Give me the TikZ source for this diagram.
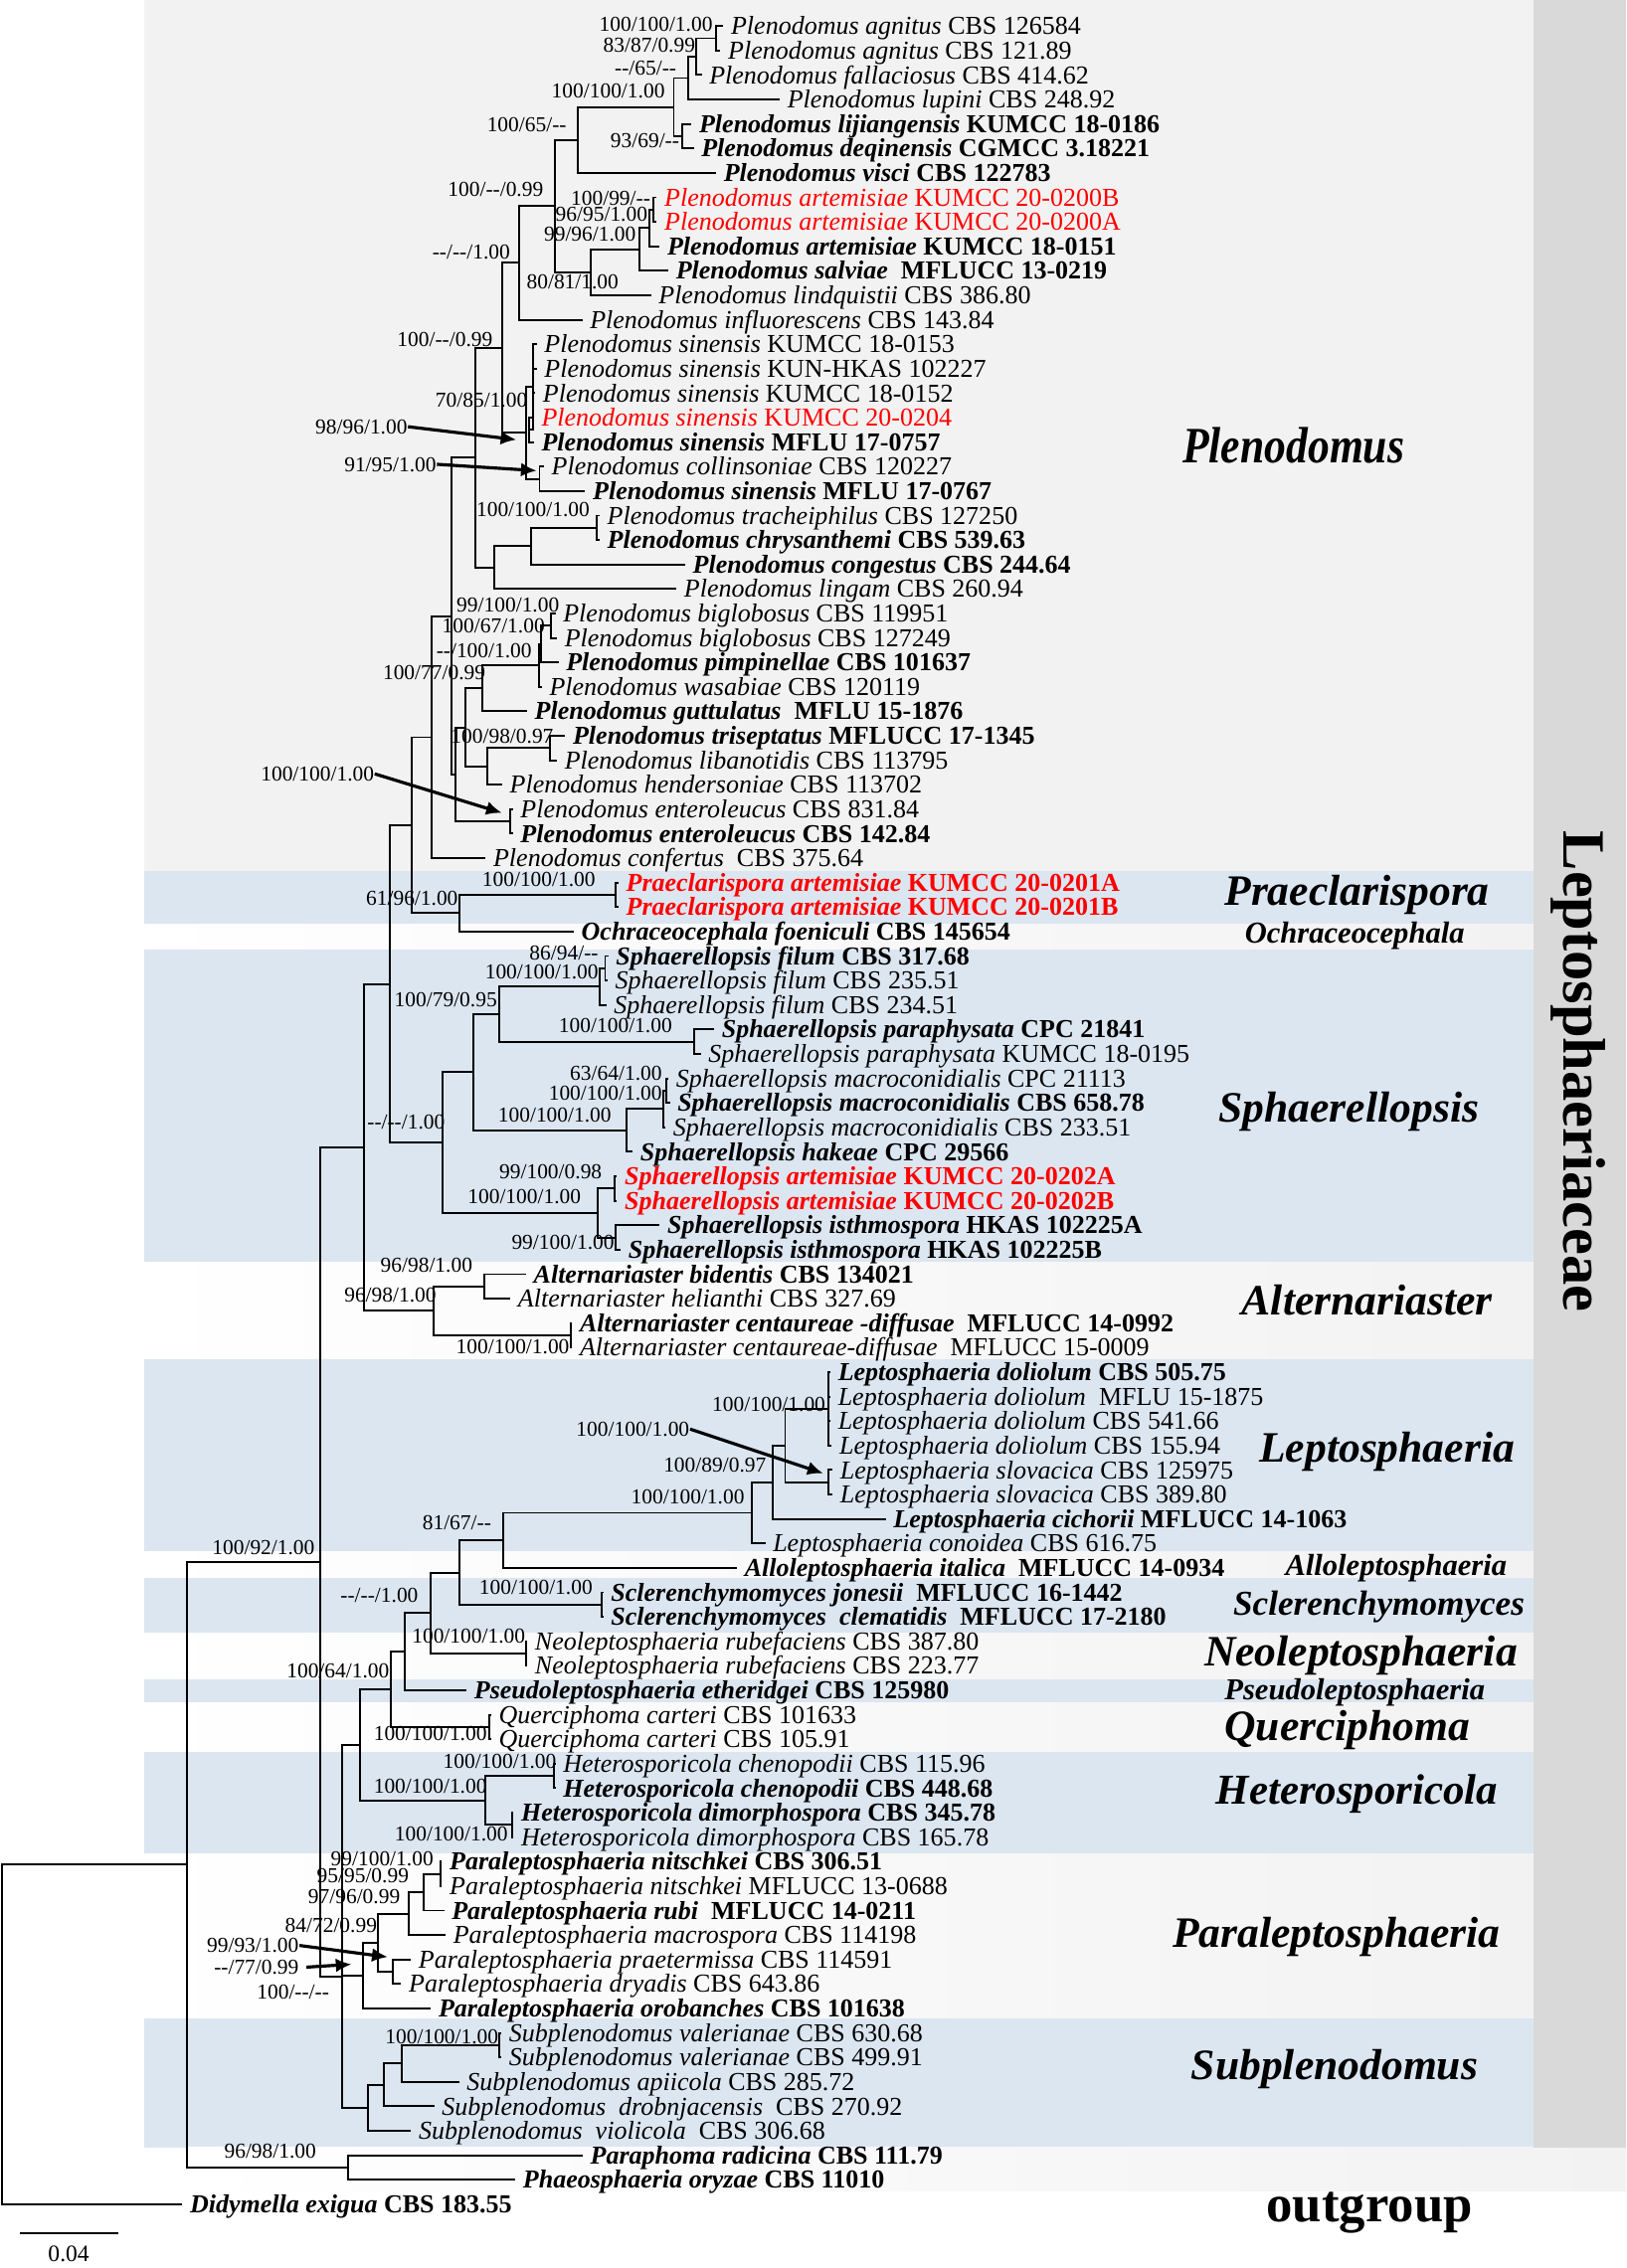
\documentclass[tikz,border=0pt]{standalone}
\usepackage{fontspec}
\setmainfont{Liberation Serif}
\usepackage{graphicx}
\usetikzlibrary{arrows.meta}

\definecolor{bandgray}{HTML}{F2F2F2}
\definecolor{bandblue}{HTML}{DCE6F1}
\definecolor{bargray}{HTML}{D9D9D9}
\definecolor{newred}{HTML}{FF0000}

% row -> y
\newcommand{\ry}[1]{1.08+16.92*(#1)}
\newcommand{\leaf}[4]{\node[#1] (t#2) at (#3,{\ry{#2}}) {#4};}
\newcommand{\band}[3]{\shade[left color=white, right color=bandgray] (#1,#2) rectangle (1060,#3);}
\newcommand{\nodat}{-{}-}

\tikzset{
  branch/.style={line width=0.55pt},
  pointer/.style={line width=0.9pt, -{Latex[length=4.5pt, width=4pt]}},
  leaf/.style={anchor=west, inner xsep=2pt, inner ysep=0pt, text height=6pt, text depth=1.1pt,
    font=\fontsize{7.4}{8}\selectfont},
  leafb/.style={leaf, font=\fontsize{7.4}{8}\selectfont\bfseries},
  leafr/.style={leaf, text=newred},
  leafrb/.style={leafb, text=newred},
  bs/.style={anchor=east, inner sep=0pt, text height=4.9pt, text depth=0.9pt,
    font=\fontsize{6.1}{7}\selectfont},
  genus/.style={anchor=base west, inner sep=0pt, font=\fontsize{12.4}{14}\selectfont\bfseries\itshape},
  genussm/.style={genus, font=\fontsize{8.7}{10}\selectfont\bfseries\itshape}
}

\begin{document}
\begin{tikzpicture}[x=0.14546mm, y=-0.14546mm]
  \useasboundingbox (0,0) rectangle (1124,1568);

  % Background bands
  \fill[bandgray] (100,0) rectangle (1060,602);
  \fill[bandblue] (100,602) rectangle (1060,639);
  \band{100}{639}{656.5}
  \fill[bandblue] (100,656.5) rectangle (1060,872.5);
  \band{100}{872.5}{939.5}
  \fill[bandblue] (100,939.5) rectangle (1060,1073);
  \band{100}{1073}{1091}
  \fill[bandblue] (100,1091) rectangle (1060,1129);
  \band{100}{1129}{1161}
  \fill[bandblue] (100,1161) rectangle (1060,1177);
  \band{100}{1177}{1211}
  \fill[bandblue] (100,1211) rectangle (1060,1282);
  \band{100}{1282}{1395.5}
  \fill[bandblue] (100,1395.5) rectangle (1060,1484.5);
  \shade[left color=white, right color=bandgray] (129,1484.5) rectangle (1124,1514.7);
  \fill[bargray] (1060,0) rectangle (1124,1484.5);

  % Tips
  \leaf{leaf}{1}{500}{\textit{Plenodomus agnitus} CBS 126584}
  \leaf{leaf}{2}{498}{\textit{Plenodomus agnitus} CBS 121.89}
  \leaf{leaf}{3}{485}{\textit{Plenodomus fallaciosus} CBS 414.62}
  \leaf{leaf}{4}{539}{\textit{Plenodomus lupini} CBS 248.92}
  \leaf{leafb}{5}{478}{\textit{Plenodomus lijiangensis} KUMCC 18-0186}
  \leaf{leafb}{6}{479.5}{\textit{Plenodomus deqinensis} CGMCC 3.18221}
  \leaf{leafb}{7}{495}{\textit{Plenodomus visci} CBS 122783}
  \leaf{leafr}{8}{454}{\textit{Plenodomus artemisiae} KUMCC 20-0200B}
  \leaf{leafr}{9}{454}{\textit{Plenodomus artemisiae} KUMCC 20-0200A}
  \leaf{leafb}{10}{456}{\textit{Plenodomus artemisiae} KUMCC 18-0151}
  \leaf{leafb}{11}{462}{\textit{Plenodomus salviae}\ \ MFLUCC 13-0219}
  \leaf{leaf}{12}{450}{\textit{Plenodomus lindquistii} CBS 386.80}
  \leaf{leaf}{13}{402.5}{\textit{Plenodomus influorescens} CBS 143.84}
  \leaf{leaf}{14}{371}{\textit{Plenodomus sinensis} KUMCC 18-0153}
  \leaf{leaf}{15}{371}{\textit{Plenodomus sinensis} KUN-HKAS 102227}
  \leaf{leaf}{16}{370}{\textit{Plenodomus sinensis} KUMCC 18-0152}
  \leaf{leafr}{17}{369}{\textit{Plenodomus sinensis} KUMCC 20-0204}
  \leaf{leafb}{18}{369}{\textit{Plenodomus sinensis} MFLU 17-0757}
  \leaf{leaf}{19}{376}{\textit{Plenodomus collinsoniae} CBS 120227}
  \leaf{leafb}{20}{404.5}{\textit{Plenodomus sinensis} MFLU 17-0767}
  \leaf{leaf}{21}{414.5}{\textit{Plenodomus tracheiphilus} CBS 127250}
  \leaf{leafb}{22}{414.5}{\textit{Plenodomus chrysanthemi} CBS 539.63}
  \leaf{leafb}{23}{473.6}{\textit{Plenodomus congestus} CBS 244.64}
  \leaf{leaf}{24}{467.6}{\textit{Plenodomus lingam} CBS 260.94}
  \leaf{leaf}{25}{384}{\textit{Plenodomus biglobosus} CBS 119951}
  \leaf{leaf}{26}{385}{\textit{Plenodomus biglobosus} CBS 127249}
  \leaf{leafb}{27}{386}{\textit{Plenodomus pimpinellae} CBS 101637}
  \leaf{leaf}{28}{374.5}{\textit{Plenodomus wasabiae} CBS 120119}
  \leaf{leafb}{29}{364.3}{\textit{Plenodomus guttulatus}\ \ MFLU 15-1876}
  \leaf{leafb}{30}{390.7}{\textit{Plenodomus triseptatus} MFLUCC 17-1345}
  \leaf{leaf}{31}{385}{\textit{Plenodomus libanotidis} CBS 113795}
  \leaf{leaf}{32}{347.1}{\textit{Plenodomus hendersoniae} CBS 113702}
  \leaf{leaf}{33}{354.5}{\textit{Plenodomus enteroleucus} CBS 831.84}
  \leaf{leafb}{34}{354.5}{\textit{Plenodomus enteroleucus} CBS 142.84}
  \leaf{leaf}{35}{335.7}{\textit{Plenodomus confertus}\ \ CBS 375.64}
  \leaf{leafrb}{36}{427.5}{\textit{Praeclarispora artemisiae} KUMCC 20-0201A}
  \leaf{leafrb}{37}{427.5}{\textit{Praeclarispora artemisiae} KUMCC 20-0201B}
  \leaf{leafb}{38}{396.6}{\textit{Ochraceocephala foeniculi} CBS 145654}
  \leaf{leafb}{39}{420.5}{\textit{Sphaerellopsis filum} CBS 317.68}
  \leaf{leaf}{40}{420}{\textit{Sphaerellopsis filum} CBS 235.51}
  \leaf{leaf}{41}{419}{\textit{Sphaerellopsis filum} CBS 234.51}
  \leaf{leafb}{42}{493.6}{\textit{Sphaerellopsis paraphysata} CPC 21841}
  \leaf{leaf}{43}{484.4}{\textit{Sphaerellopsis paraphysata} KUMCC 18-0195}
  \leaf{leaf}{44}{462}{\textit{Sphaerellopsis macroconidialis} CPC 21113}
  \leaf{leafb}{45}{463}{\textit{Sphaerellopsis macroconidialis} CBS 658.78}
  \leaf{leaf}{46}{460}{\textit{Sphaerellopsis macroconidialis} CBS 233.51}
  \leaf{leafb}{47}{437.3}{\textit{Sphaerellopsis hakeae} CPC 29566}
  \leaf{leafrb}{48}{426.5}{\textit{Sphaerellopsis artemisiae} KUMCC 20-0202A}
  \leaf{leafrb}{49}{426.5}{\textit{Sphaerellopsis artemisiae} KUMCC 20-0202B}
  \leaf{leafb}{50}{456}{\textit{Sphaerellopsis isthmospora} HKAS 102225A}
  \leaf{leafb}{51}{429}{\textit{Sphaerellopsis isthmospora} HKAS 102225B}
  \leaf{leafb}{52}{363.6}{\textit{Alternariaster bidentis} CBS 134021}
  \leaf{leaf}{53}{352.8}{\textit{Alternariaster helianthi} CBS 327.69}
  \leaf{leafb}{54}{395.5}{\textit{Alternariaster centaureae -diffusae}\ \ MFLUCC 14-0992}
  \leaf{leaf}{55}{395.5}{\textit{Alternariaster centaureae-diffusae}\ \ MFLUCC 15-0009}
  \leaf{leafb}{56}{574}{\textit{Leptosphaeria doliolum} CBS 505.75}
  \leaf{leaf}{57}{574}{\textit{Leptosphaeria doliolum}\ \ MFLU 15-1875}
  \leaf{leaf}{58}{574}{\textit{Leptosphaeria doliolum} CBS 541.66}
  \leaf{leaf}{59}{575}{\textit{Leptosphaeria doliolum} CBS 155.94}
  \leaf{leaf}{60}{575.5}{\textit{Leptosphaeria slovacica} CBS 125975}
  \leaf{leaf}{61}{575.5}{\textit{Leptosphaeria slovacica} CBS 389.80}
  \leaf{leafb}{62}{612.3}{\textit{Leptosphaeria cichorii} MFLUCC 14-1063}
  \leaf{leaf}{63}{529}{\textit{Leptosphaeria conoidea} CBS 616.75}
  \leaf{leafb}{64}{509.4}{\textit{Alloleptosphaeria italica}\ \ MFLUCC 14-0934}
  \leaf{leafb}{65}{417}{\textit{Sclerenchymomyces jonesii}\ \ MFLUCC 16-1442}
  \leaf{leafb}{66}{417}{\textit{Sclerenchymomyces\ \ clematidis}\ \ MFLUCC 17-2180}
  \leaf{leaf}{67}{364.5}{\textit{Neoleptosphaeria rubefaciens} CBS 387.80}
  \leaf{leaf}{68}{364.5}{\textit{Neoleptosphaeria rubefaciens} CBS 223.77}
  \leaf{leafb}{69}{322.5}{\textit{Pseudoleptosphaeria etheridgei} CBS 125980}
  \leaf{leaf}{70}{339.5}{\textit{Querciphoma carteri} CBS 101633}
  \leaf{leaf}{71}{339.5}{\textit{Querciphoma carteri} CBS 105.91}
  \leaf{leaf}{72}{384}{\textit{Heterosporicola chenopodii} CBS 115.96}
  \leaf{leafb}{73}{384}{\textit{Heterosporicola chenopodii} CBS 448.68}
  \leaf{leafb}{74}{355}{\textit{Heterosporicola dimorphospora} CBS 345.78}
  \leaf{leaf}{75}{355}{\textit{Heterosporicola dimorphospora} CBS 165.78}
  \leaf{leafb}{76}{305.5}{\textit{Paraleptosphaeria nitschkei} CBS 306.51}
  \leaf{leaf}{77}{305.5}{\textit{Paraleptosphaeria nitschkei} MFLUCC 13-0688}
  \leaf{leafb}{78}{307}{\textit{Paraleptosphaeria rubi}\ \ MFLUCC 14-0211}
  \leaf{leaf}{79}{308}{\textit{Paraleptosphaeria macrospora} CBS 114198}
  \leaf{leaf}{80}{284}{\textit{Paraleptosphaeria praetermissa} CBS 114591}
  \leaf{leaf}{81}{277.3}{\textit{Paraleptosphaeria dryadis} CBS 643.86}
  \leaf{leafb}{82}{297.9}{\textit{Paraleptosphaeria orobanches} CBS 101638}
  \leaf{leaf}{83}{346.5}{\textit{Subplenodomus valerianae} CBS 630.68}
  \leaf{leaf}{84}{346.5}{\textit{Subplenodomus valerianae} CBS 499.91}
  \leaf{leaf}{85}{317.3}{\textit{Subplenodomus apiicola} CBS 285.72}
  \leaf{leaf}{86}{300.2}{\textit{Subplenodomus\ \ drobnjacensis}\ \ CBS 270.92}
  \leaf{leaf}{87}{284.1}{\textit{Subplenodomus\ \ violicola}\ \ CBS 306.68}
  \leaf{leafb}{88}{402.8}{\textit{Paraphoma radicina} CBS 111.79}
  \leaf{leafb}{89}{356.2}{\textit{Phaeosphaeria oryzae} CBS 11010}
  \leaf{leafb}{90}{126}{\textit{Didymella exigua} CBS 183.55}

  % Internal nodes
  \coordinate (nAg)   at (495,{\ry{1.5}});
  \coordinate (n8387) at (481.5,{\ry{2.25}});
  \coordinate (n65)   at (476,{\ry{3.125}});
  \coordinate (nLD)   at (471.6,{\ry{5.5}});
  \coordinate (n100a) at (465.7,{\ry{4.31}});
  \coordinate (n10065) at (399.4,{\ry{5.66}});
  \coordinate (nArt)  at (451.5,{\ry{8.5}});
  \coordinate (n9695) at (449,{\ry{9.25}});
  \coordinate (n9996) at (442,{\ry{10.125}});
  \coordinate (n8081) at (408.4,{\ry{11.06}});
  \coordinate (n10099) at (383.6,{\ry{8.36}});
  \coordinate (nDD1)  at (359.1,{\ry{10.68}});
  \coordinate (nS2)   at (366,{\ry{17.5}});
  \coordinate (nS1)   at (368.5,{\ry{15.75}});
  \coordinate (nS3)   at (372.9,{\ry{19.5}});
  \coordinate (nS4)   at (363.5,{\ry{17.625}});
  \coordinate (nA)    at (347.3,{\ry{14.15}});
  \coordinate (nE)    at (412.4,{\ry{21.5}});
  \coordinate (nD)    at (367.3,{\ry{22.25}});
  \coordinate (nB)    at (341.4,{\ry{23.125}});
  \coordinate (nC)    at (328.5,{\ry{18.64}});
  \coordinate (nBig)  at (381.1,{\ry{25.5}});
  \coordinate (n10067) at (374.2,{\ry{26.25}});
  \coordinate (nW)    at (372.3,{\ry{27.125}});
  \coordinate (nI)    at (333.4,{\ry{28.06}});
  \coordinate (nTL)   at (380.4,{\ry{30.5}});
  \coordinate (nK)    at (336.8,{\ry{31.25}});
  \coordinate (nJ)    at (321.9,{\ry{29.66}});
  \coordinate (nEnt)  at (352.4,{\ry{33.5}});
  \coordinate (nL)    at (314.6,{\ry{31.58}});
  \coordinate (nF)    at (312.1,{\ry{25.11}});
  \coordinate (nG)    at (298.6,{\ry{30.06}});
  \coordinate (nPr)   at (425.4,{\ry{36.5}});
  \coordinate (nN)    at (317.7,{\ry{37.25}});
  \coordinate (nM)    at (284.5,{\ry{33.66}});
  \coordinate (nFi1)  at (418.3,{\ry{39.5}});
  \coordinate (nFi)   at (414.2,{\ry{40.25}});
  \coordinate (nPa)   at (479.9,{\ry{42.5}});
  \coordinate (nT)    at (344.9,{\ry{41.375}});
  \coordinate (nMa1)  at (460.3,{\ry{44.5}});
  \coordinate (nMa)   at (458.2,{\ry{45.25}});
  \coordinate (nU)    at (433.2,{\ry{46.125}});
  \coordinate (nR)    at (327,{\ry{43.75}});
  \coordinate (nSA)   at (425,{\ry{48.5}});
  \coordinate (nIs)   at (425.7,{\ry{50.5}});
  \coordinate (nS)    at (413.2,{\ry{49.5}});
  \coordinate (nQ)    at (306.2,{\ry{46.625}});
  \coordinate (nO)    at (269.5,{\ry{40.14}});
  \coordinate (nAb)   at (334.5,{\ry{52.5}});
  \coordinate (nCe)   at (394.5,{\ry{54.5}});
  \coordinate (nWa)   at (299.9,{\ry{53.5}});
  \coordinate (nP)    at (251.3,{\ry{46.82}});
  \coordinate (nDo)   at (572.7,{\ry{57.5}});
  \coordinate (nSl)   at (572.7,{\ry{60.5}});
  \coordinate (nX)    at (542.7,{\ry{59}});
  \coordinate (nY)    at (534.4,{\ry{60.5}});
  \coordinate (nZ)    at (519.4,{\ry{61.75}});
  \coordinate (nAA)   at (347.8,{\ry{62.875}});
  \coordinate (nSc)   at (415.7,{\ry{65.5}});
  \coordinate (nAB)   at (317.4,{\ry{64.19}});
  \coordinate (nNe)   at (363.5,{\ry{67.5}});
  \coordinate (nAC)   at (297.4,{\ry{65.84}});
  \coordinate (nAD)   at (279.5,{\ry{67.42}});
  \coordinate (nQu)   at (338.5,{\ry{70.5}});
  \coordinate (nAE)   at (269.9,{\ry{68.96}});
  \coordinate (nHc)   at (382.8,{\ry{72.5}});
  \coordinate (nHd)   at (353.9,{\ry{74.5}});
  \coordinate (nAG)   at (335.5,{\ry{73.5}});
  \coordinate (nAF)   at (249.1,{\ry{71.23}});
  \coordinate (nNi)   at (304.3,{\ry{76.5}});
  \coordinate (n9595) at (292.8,{\ry{77.25}});
  \coordinate (n9796) at (282.3,{\ry{78.125}});
  \coordinate (nPD)   at (271.5,{\ry{80.5}});
  \coordinate (n8472) at (261.2,{\ry{79.31}});
  \coordinate (n7799) at (250.9,{\ry{80.66}});
  \coordinate (nVa)   at (345.3,{\ry{83.5}});
  \coordinate (nSp1)  at (277.9,{\ry{84.25}});
  \coordinate (nSp2)  at (265.3,{\ry{85.125}});
  \coordinate (nSp3)  at (254.3,{\ry{86.06}});
  \coordinate (nAH)   at (236.7,{\ry{80.7}});
  \coordinate (nV)    at (221.3,{\ry{63.76}});
  \coordinate (nOu)   at (240.6,{\ry{88.5}});
  \coordinate (nBA)   at (129,{\ry{76.13}});
  \coordinate (nRt)   at (1.5,{\ry{83.07}});

  % Branches
  \foreach \p/\c in {nAg/t1.west, nAg/t2.west, n8387/nAg, n8387/t3.west, n65/n8387, n65/t4.west,
      nLD/t5.west, nLD/t6.west, n100a/n65, n100a/nLD, n10065/n100a, n10065/t7.west,
      nArt/t8.west, nArt/t9.west, n9695/nArt, n9695/t10.west, n9996/n9695, n9996/t11.west,
      n8081/n9996, n8081/t12.west, n10099/n10065, n10099/n8081, nDD1/n10099, nDD1/t13.west,
      nS2/t17.west, nS2/t18.west, nS1/t14.west, nS1/t15.west, nS1/t16.west, nS1/nS2,
      nS3/t19.west, nS3/t20.west, nS4/nS1, nS4/nS3, nA/nDD1, nA/nS4,
      nE/t21.west, nE/t22.west, nD/nE, nD/t23.west, nB/nD, nB/t24.west, nC/nA, nC/nB,
      nBig/t25.west, nBig/t26.west, n10067/nBig, n10067/t27.west, nW/n10067, nW/t28.west,
      nI/nW, nI/t29.west, nTL/t30.west, nTL/t31.west, nK/nTL, nK/t32.west, nJ/nI, nJ/nK,
      nEnt/t33.west, nEnt/t34.west, nL/nJ, nL/nEnt, nF/nC, nF/nL, nG/nF, nG/t35.west,
      nPr/t36.west, nPr/t37.west, nN/nPr, nN/t38.west, nM/nG, nM/nN,
      nFi1/t39.west, nFi1/t40.west, nFi/nFi1, nFi/t41.west, nPa/t42.west, nPa/t43.west,
      nT/nFi, nT/nPa, nMa1/t44.west, nMa1/t45.west, nMa/nMa1, nMa/t46.west, nU/nMa, nU/t47.west,
      nR/nT, nR/nU, nSA/t48.west, nSA/t49.west, nIs/t50.west, nIs/t51.west, nS/nSA, nS/nIs,
      nQ/nR, nQ/nS, nO/nM, nO/nQ,
      nAb/t52.west, nAb/t53.west, nCe/t54.west, nCe/t55.west, nWa/nAb, nWa/nCe, nP/nO, nP/nWa,
      nDo/t56.west, nDo/t57.west, nDo/t58.west, nDo/t59.west, nSl/t60.west, nSl/t61.west,
      nX/nDo, nX/nSl, nY/nX, nY/t62.west, nZ/nY, nZ/t63.west, nAA/nZ, nAA/t64.west,
      nSc/t65.west, nSc/t66.west, nAB/nAA, nAB/nSc, nNe/t67.west, nNe/t68.west,
      nAC/nAB, nAC/nNe, nAD/nAC, nAD/t69.west, nQu/t70.west, nQu/t71.west, nAE/nAD, nAE/nQu,
      nHc/t72.west, nHc/t73.west, nHd/t74.west, nHd/t75.west, nAG/nHc, nAG/nHd, nAF/nAE, nAF/nAG,
      nNi/t76.west, nNi/t77.west, n9595/nNi, n9595/t78.west, n9796/n9595, n9796/t79.west,
      nPD/t80.west, nPD/t81.west, n8472/n9796, n8472/nPD, n7799/n8472, n7799/t82.west,
      nVa/t83.west, nVa/t84.west, nSp1/nVa, nSp1/t85.west, nSp2/nSp1, nSp2/t86.west,
      nSp3/nSp2, nSp3/t87.west, nAH/nAF, nAH/n7799, nAH/nSp3, nV/nP, nV/nAH,
      nOu/t88.west, nOu/t89.west, nBA/nV, nBA/nOu, nRt/nBA, nRt/t90.west}
    \draw[branch] (\p) |- (\c);

  % Support values
  \foreach \n/\v/\x/\y in {s1/100\slash100\slash1.00/493/17, s2/83\slash87\slash0.99/481/31,
      s3/\nodat\slash65\slash\nodat/468/47, s4/100\slash100\slash1.00/460/63, s5/93\slash69\slash\nodat/470/97,
      s6/100\slash65\slash\nodat/392/86, s7/100\slash\nodat\slash0.99/376/131, s8/100\slash99\slash\nodat/450/137,
      s9/96\slash95\slash1.00/448/148, s10/99\slash96\slash1.00/440/162, s11/\nodat\slash\nodat\slash1.00/353/174,
      s12/80\slash81\slash1.00/428/195, s13/100\slash\nodat\slash0.99/341/235, s14/70\slash85\slash1.00/365/277,
      s15/98\slash96\slash1.00/282/295, s16/91\slash95\slash1.00/302/321, s17/100\slash100\slash1.00/408/352,
      s18/99\slash100\slash1.00/387/418, s19/100\slash67\slash1.00/377/433, s20/\nodat\slash100\slash1.00/368/450,
      s21/100\slash77\slash0.99/336/465, s22/100\slash98\slash0.97/383/509, s23/100\slash100\slash1.00/259/535,
      s24/100\slash100\slash1.00/412/608, s25/61\slash96\slash1.00/317/621, s26/86\slash94\slash\nodat/414/659,
      s27/100\slash100\slash1.00/414/672, s28/100\slash79\slash0.95/344/691, s29/100\slash100\slash1.00/465/709,
      s30/63\slash64\slash1.00/458/742, s31/100\slash100\slash1.00/458/756, s32/100\slash100\slash1.00/423/771,
      s33/\nodat\slash\nodat\slash1.00/308/776, s34/99\slash100\slash0.98/416.5/810, s35/100\slash100\slash1.00/402/827,
      s36/99\slash100\slash1.00/425/859, s37/96\slash98\slash1.00/327/875, s38/96\slash98\slash1.00/302/895,
      s39/100\slash100\slash1.00/394/931, s40/100\slash100\slash1.00/571/971, s41/100\slash100\slash1.00/477/988,
      s42/100\slash89\slash0.97/530/1013, s43/100\slash100\slash1.00/515/1035, s44/81\slash67\slash\nodat/340/1053,
      s45/100\slash100\slash1.00/410/1097.6, s46/\nodat\slash\nodat\slash1.00/289.5/1103, s47/100\slash92\slash1.00/218/1070,
      s48/100\slash100\slash1.00/363.5/1131, s49/100\slash64\slash1.00/269.5/1155, s50/100\slash100\slash1.00/337/1198.5,
      s51/100\slash100\slash1.00/385/1218, s52/100\slash100\slash1.00/337/1235, s53/100\slash100\slash1.00/351.5/1268,
      s54/99\slash100\slash1.00/300/1285, s55/95\slash95\slash0.99/283/1297, s56/97\slash96\slash0.99/277/1311,
      s57/84\slash72\slash0.99/261/1331, s58/99\slash93\slash1.00/207/1345, s59/\nodat\slash77\slash0.99/207/1360,
      s60/100\slash\nodat\slash\nodat/228/1377, s61/100\slash100\slash1.00/345/1408, s62/96\slash98\slash1.00/219/1487}
    \node[bs] (\n) at (\x,\y) {\v};

  % Pointers
  \coordinate (p15) at (357,304);
  \coordinate (p16) at (371,325.4);
  \coordinate (p23) at (347,562);
  \coordinate (p41) at (569,1018.6);
  \coordinate (p58) at (268,1353);
  \coordinate (p59) at (243,1358);
  \draw[pointer] (s15.east) -- (p15);
  \draw[pointer] (s16.east) -- (p16);
  \draw[pointer] (s23.east) -- (p23);
  \draw[pointer] (s41.east) -- (p41);
  \draw[pointer] (s58.east) -- (p58);
  \draw[pointer] ([xshift=2pt]s59.east) -- (p59);

  % Clade names
  \node[genus] (gPle) at (817,320) {\scalebox{0.85}[1]{\fontsize{14.6}{16}\selectfont Plenodomus}};
  \node[genus] (gPra) at (846,626) {Praeclarispora};
  \node[genussm] (gOch) at (860,652) {Ochraceocephala};
  \node[genus] (gSph) at (842,776) {Sphaerellopsis};
  \node[genus] (gAlt) at (858,909) {Alternariaster};
  \node[genus] (gLep) at (870,1011) {Leptosphaeria};
  \node[genussm] (gAll) at (888,1089) {Alloleptosphaeria};
  \node[genus, font=\fontsize{10}{12}\selectfont\bfseries\itshape] (gScl) at (852,1117) {Sclerenchymomyces};
  \node[genus] (gNeo) at (832,1152) {Neoleptosphaeria};
  \node[genussm] (gPse) at (846,1175) {Pseudoleptosphaeria};
  \node[genus] (gQue) at (846,1203) {Querciphoma};
  \node[genus, font=\fontsize{12.2}{14}\selectfont\bfseries\itshape] (gHet) at (840,1247) {Heterosporicola};
  \node[genus] (gPar) at (810,1346) {Paraleptosphaeria};
  \node[genus] (gSub) at (823,1438) {Subplenodomus};
  \node[genus, font=\fontsize{15}{17}\selectfont\bfseries] (gOut) at (875,1536) {outgroup};
  \node[anchor=base west, inner sep=0pt, rotate=-90, font=\fontsize{17.2}{19}\selectfont\bfseries]
    (fam) at (1081,574) {Leptosphaeriaceae};

  % Scale bar
  \coordinate (sb1) at (14,1544);
  \coordinate (sb2) at (82,1544);
  \draw[line width=0.7pt] (sb1) -- (sb2);
  \node[font=\fontsize{6.7}{8}\selectfont, inner sep=0pt] (sbl) at (47.5,1558) {0.04};
\end{tikzpicture}
\end{document}
